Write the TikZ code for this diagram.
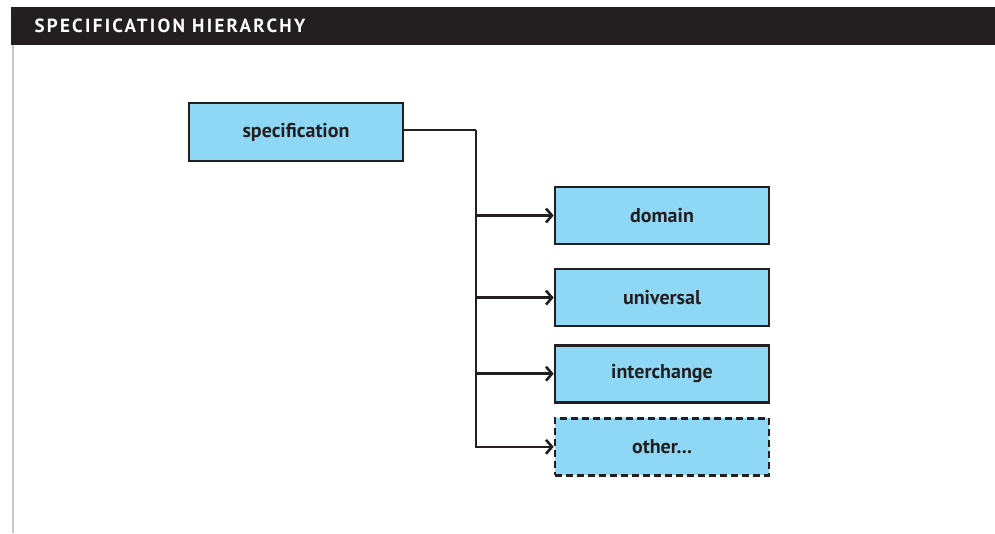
\documentclass[tikz,border=0pt]{standalone}
\usepackage{fontspec}
\setmainfont{PT Sans}
\newfontfamily\titlefont[LetterSpace=12]{PT Sans}
\usepackage{tikz}
\usetikzlibrary{positioning,arrows.meta}
\definecolor{ink}{HTML}{231F20}
\definecolor{boxblue}{HTML}{8FD8F5}
\definecolor{rule}{HTML}{C8C8C8}

\begin{document}
\begin{tikzpicture}[x=1pt,y=1pt,
  box/.style={rectangle,draw=ink,fill=boxblue,line width=2.6pt,minimum width=214pt,minimum height=57pt,
    text=ink,font=\fontsize{20}{24}\selectfont\bfseries},
  link/.style={draw=ink,line width=2.6pt,-{Straight Barb[length=6pt,width=14pt,line width=2.6pt]}}]
\useasboundingbox (0,0) rectangle (995,-533);
\fill[ink] (11,-7) rectangle (995,-45);
\node [anchor=west,text=white,font=\titlefont\fontsize{19}{22}\selectfont\bfseries] (title) at (31,-26) {SPECIFICATION HIERARCHY};
\draw [rule,line width=2.5pt] (13,-45) -- (13,-533);

\node [box,minimum height=58pt] (spec) at (296,-132) {specification};
\node [box] (domain) at (662,-215.5) {domain};
\node [box,below=22.5pt of domain] (universal) {universal};
\node [box,below=16.5pt of universal] (interchange) {interchange};
\node [box,dash pattern=on 7pt off 4pt,below=13.5pt of interchange] (other) {other...};

\coordinate (fork) at (476,-130);
\draw [draw=ink,line width=2.6pt] (spec.east |- fork) -- (fork);
\draw [link] (fork) |- (other.west);
\draw [link] (fork |- domain.west) -- (domain.west);
\draw [link] (fork |- universal.west) -- (universal.west);
\draw [link] (fork |- interchange.west) -- (interchange.west);
\end{tikzpicture}
\end{document}
